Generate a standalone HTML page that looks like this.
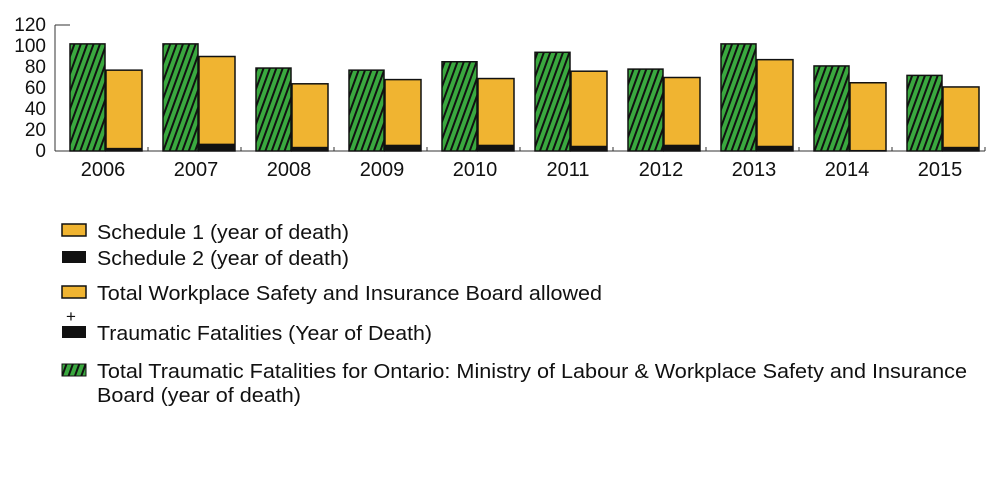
<!DOCTYPE html>
<html><head><meta charset="utf-8"><style>
body{margin:0;background:#fff;width:1000px;height:476px;overflow:hidden;font-family:"Liberation Sans",sans-serif}
svg text{font-family:"Liberation Sans",sans-serif;fill:#111}
</style></head><body>
<svg width="1000" height="476">
<defs>
<pattern id="hatch" patternUnits="userSpaceOnUse" width="6" height="6" patternTransform="rotate(20)">
<rect width="6" height="6" fill="#3aa83f"/><rect width="2" height="6" fill="#111"/>
</pattern>
</defs>
<g id="axes"></g>
<g id="bars"></g>
<g id="legend">
<rect x="62" y="224" width="24" height="12" fill="#f0b431" stroke="#111" stroke-width="1.5"/>
<text x="97" y="239" font-size="20" textLength="252" lengthAdjust="spacingAndGlyphs">Schedule 1 (year of death)</text>
<rect x="62" y="251" width="24" height="12" fill="#111"/>
<text x="97" y="265" font-size="20" textLength="252" lengthAdjust="spacingAndGlyphs">Schedule 2 (year of death)</text>
<rect x="62" y="286" width="24" height="12" fill="#f0b431" stroke="#111" stroke-width="1.5"/>
<text x="97" y="300" font-size="20" textLength="505" lengthAdjust="spacingAndGlyphs">Total Workplace Safety and Insurance Board allowed</text>
<text x="66" y="322" font-size="17">+</text>
<rect x="62" y="326" width="24" height="12" fill="#111"/>
<text x="97" y="340" font-size="20" textLength="335" lengthAdjust="spacingAndGlyphs">Traumatic Fatalities (Year of Death)</text>
<rect x="62" y="364" width="24" height="12" fill="url(#hatch)" stroke="#111" stroke-width="1"/>
<text x="97" y="378" font-size="20" textLength="870" lengthAdjust="spacingAndGlyphs">Total Traumatic Fatalities for Ontario: Ministry of Labour &amp; Workplace Safety and Insurance</text>
<text x="97" y="402" font-size="20" textLength="204" lengthAdjust="spacingAndGlyphs">Board (year of death)</text>
</g>
</svg>
<script>
const years=["2006","2007","2008","2009","2010","2011","2012","2013","2014","2015"];
const totalTraumatic=[102,102,79,77,85,94,78,102,81,72];
const wsibTotal=[77,90,64,68,69,76,70,87,65,61];
const schedule2=[3,7,4,6,6,5,6,5,1,4];
const yTicks=[0,20,40,60,80,100,120];
const NS="http://www.w3.org/2000/svg";
const x0=55,slot=93,y0=151,yScale=(151-25)/120;
const y=v=>y0-v*yScale;
function mk(t,a,p){const e=document.createElementNS(NS,t);for(const k in a)e.setAttribute(k,a[k]);p.appendChild(e);return e;}
const ax=document.getElementById('axes'),bg=document.getElementById('bars');
let yl=mk('line',{x1:x0,y1:y(120),x2:x0,y2:y0,stroke:'#333','stroke-width':1},ax);


let xl=mk('line',{x1:x0,y1:y0,x2:x0+slot*years.length,y2:y0,stroke:'#333','stroke-width':1},ax);


mk('line',{x1:x0,y1:y(120),x2:x0+15,y2:y(120),stroke:'#333'},ax);
yTicks.forEach(v=>{const t=mk('text',{x:46,y:y(v)+6,'text-anchor':'end','font-size':19},ax);t.textContent=v;

});
years.forEach((yr,i)=>{
const s=x0+i*slot;
mk('line',{x1:s+slot,y1:y0,x2:s+slot,y2:y0-4,stroke:'#333'},ax);
const t=mk('text',{x:s+48,y:176,'text-anchor':'middle','font-size':20},ax);t.textContent=yr;


const g=mk('rect',{x:s+15,y:y(totalTraumatic[i]),width:35,height:totalTraumatic[i]*yScale,fill:'url(#hatch)',stroke:'#111','stroke-width':1.5},bg);


const o=mk('rect',{x:s+51,y:y(wsibTotal[i]),width:36,height:wsibTotal[i]*yScale,fill:'#f0b431',stroke:'#111','stroke-width':1.5},bg);


const b=mk('rect',{x:s+51,y:y(schedule2[i]),width:36,height:schedule2[i]*yScale,fill:'#111'},bg);


});
</script>
</body></html>
